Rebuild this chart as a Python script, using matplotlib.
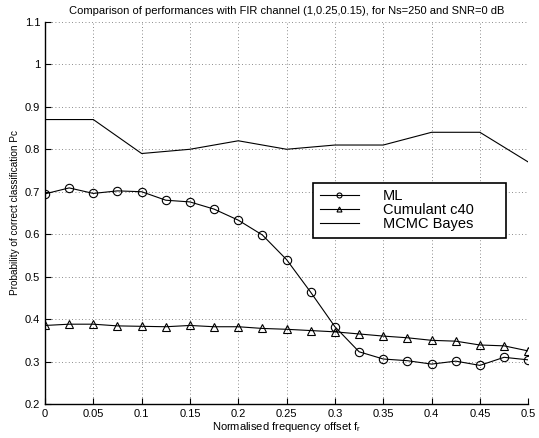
import matplotlib
matplotlib.use("Agg")
import matplotlib.pyplot as plt
import numpy as np

plt.rcParams['font.family'] = ['Liberation Sans', 'DejaVu Sans']

f_fine = [0, 0.025, 0.05, 0.075, 0.1, 0.125, 0.15, 0.175, 0.2, 0.225, 0.25,
          0.275, 0.3, 0.325, 0.35, 0.375, 0.4, 0.425, 0.45, 0.475, 0.5]
ml = [0.695, 0.709, 0.696, 0.702, 0.700, 0.680, 0.676, 0.659, 0.633, 0.598, 0.540,
      0.463, 0.382, 0.323, 0.306, 0.302, 0.294, 0.301, 0.291, 0.310, 0.304]
c40 = [0.385, 0.388, 0.388, 0.384, 0.383, 0.382, 0.385, 0.382, 0.382, 0.378, 0.376,
       0.373, 0.370, 0.365, 0.360, 0.356, 0.350, 0.348, 0.339, 0.337, 0.325]
f_coarse = [0, 0.05, 0.1, 0.15, 0.2, 0.25, 0.3, 0.35, 0.4, 0.45, 0.5]
mcmc = [0.87, 0.87, 0.79, 0.80, 0.82, 0.80, 0.81, 0.81, 0.84, 0.84, 0.77]

xticks = [0, 0.05, 0.1, 0.15, 0.2, 0.25, 0.3, 0.35, 0.4, 0.45, 0.5]
xticklabels = ['0', '0.05', '0.1', '0.15', '0.2', '0.25', '0.3', '0.35', '0.4', '0.45', '0.5']
yticks = [0.2, 0.3, 0.4, 0.5, 0.6, 0.7, 0.8, 0.9, 1.0, 1.1]
yticklabels = ['0.2', '0.3', '0.4', '0.5', '0.6', '0.7', '0.8', '0.9', '1', '1.1']

fig = plt.figure(figsize=(5.39, 4.38), dpi=100)
ax = fig.add_axes([0.0835, 0.0776, 0.8965, 0.8724])

ax.plot(f_fine, ml, color='black', lw=0.8, marker='o', ms=6, mfc='none', mec='black', mew=0.8, label='ML')
ax.plot(f_fine, c40, color='black', lw=0.8, marker='^', ms=6, mfc='none', mec='black', mew=0.8, label='Cumulant c40')
ax.plot(f_coarse, mcmc, color='black', lw=0.8, label='MCMC Bayes')

ax.set_xlim(0, 0.5)
ax.set_ylim(0.2, 1.1)
ax.set_xticks(xticks)
ax.set_xticklabels(xticklabels)
ax.set_yticks(yticks)
ax.set_yticklabels(yticklabels)
ax.tick_params(direction='in', labelsize=8, length=4, width=0.8, top=False, right=False)
ax.grid(True, linestyle=(0, (1, 3)), color='#666666', lw=0.6)
for s in ['top', 'right']:
    ax.spines[s].set_visible(False)
for s in ['left', 'bottom']:
    ax.spines[s].set_linewidth(1.0)

ax.set_title('Comparison of performances with FIR channel (1,0.25,0.15), for Ns=250 and SNR=0 dB', fontsize=8, pad=6)
ax.set_xlabel('Normalised frequency offset f$_\\mathregular{r}$', fontsize=8, labelpad=1)
ax.set_ylabel('Probability of correct classification Pc', fontsize=7.2, labelpad=3)

leg = ax.legend(loc='upper left', bbox_to_anchor=(0.555, 0.411, 0.399, 0.168), mode='expand',
                fontsize=10.5, frameon=True, fancybox=False, edgecolor='black', framealpha=1,
                borderpad=0.45, labelspacing=0.0, handlelength=2.7, markerscale=0.6,
                handletextpad=1.65, borderaxespad=0)
leg.get_frame().set_linewidth(1.2)

fig.savefig('out.png', dpi=100)
